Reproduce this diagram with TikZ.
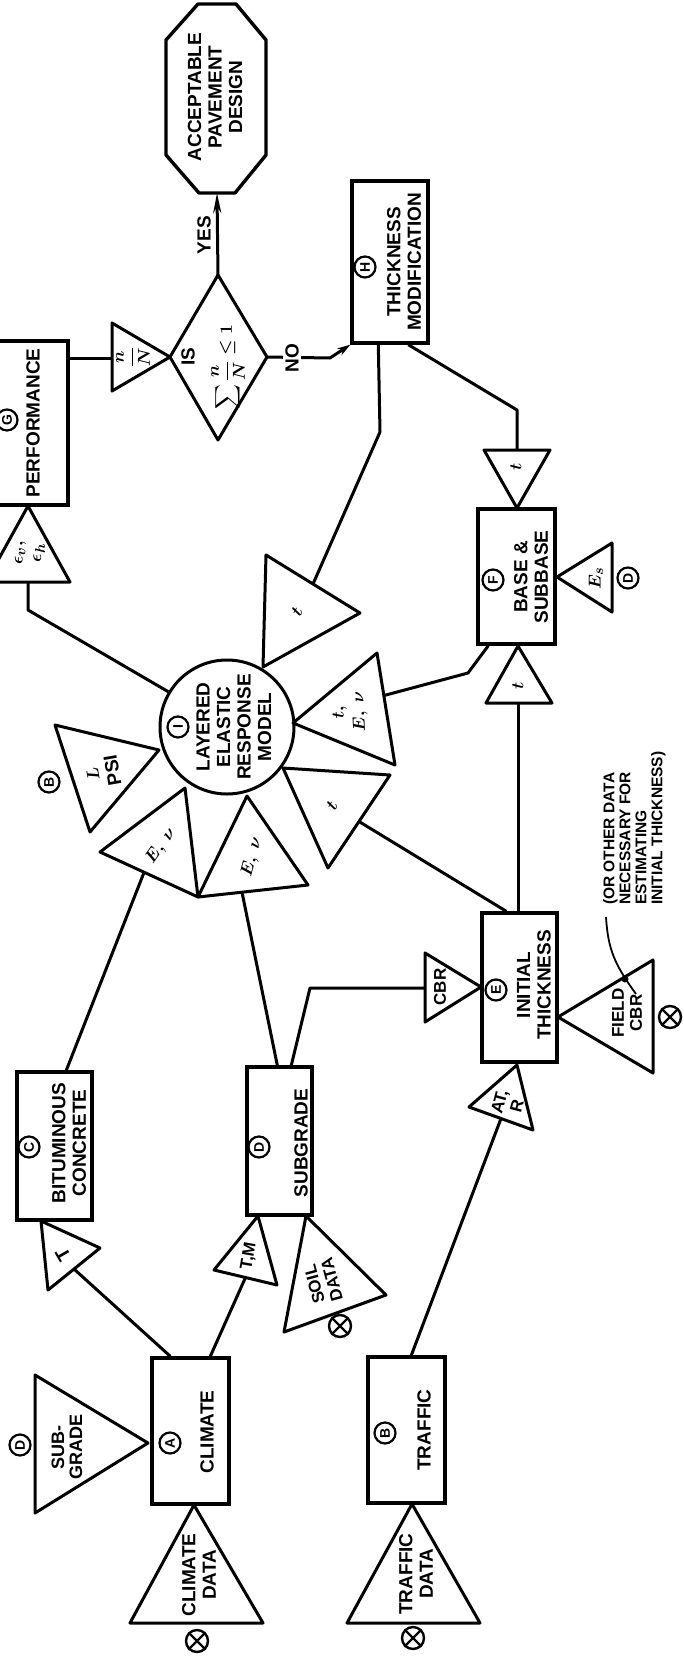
\documentclass[tikz,border=0pt]{standalone}
\usepackage{exscale}
\usepackage{fontspec}
\setmainfont{Liberation Sans}
\usetikzlibrary{arrows.meta,calc}
\begin{document}
\begin{tikzpicture}[x=1pt,y=-1pt,
  ln/.style={line width=3pt,line join=round},
  box/.style={draw,line width=3.4pt,inner sep=0pt},
  txt/.style={font=\fontsize{19}{20.5}\selectfont\bfseries\boldmath,align=center,inner sep=0pt},
  lbl/.style={txt,rotate=90},
  sml/.style={txt,font=\fontsize{17}{18}\selectfont\bfseries\boldmath},
  cl/.style={draw,circle,line width=2.2pt,minimum size=21pt,inner sep=0pt,
    font=\fontsize{14}{14}\selectfont\bfseries,rotate=90},
  src/.style={draw,circle,line width=2.4pt,minimum size=22pt,inner sep=0pt},
  xmark/.style={line width=2.4pt},
  yes/.style={-{Stealth[length=20pt,width=8pt]}},
  no/.style={-{Stealth[length=13pt,width=8pt]}}
]
\useasboundingbox (0,0) rectangle (683,1665);
\fill[white] (0,0) rectangle (683,1665);
\clip (0,0) rectangle (683,1665);

% ---------- final result: octagon ----------
\coordinate (o1) at (198,4);   \coordinate (o2) at (236,4);
\coordinate (o3) at (266,40);  \coordinate (o4) at (266,155);
\coordinate (o5) at (235,193); \coordinate (o6) at (199,193);
\coordinate (o7) at (166,155); \coordinate (o8) at (166,40);
\draw[ln,line width=3.4pt] (o1)--(o2)--(o3)--(o4)--(o5)--(o6)--(o7)--(o8)--cycle;
\coordinate (accB) at (217,193);
\node[lbl] (acc) at (215,97) {ACCEPTABLE\\PAVEMENT\\DESIGN};

% ---------- decision diamond ----------
\coordinate (dT) at (218,275); \coordinate (dR) at (267,357);
\coordinate (dB) at (218,440); \coordinate (dL) at (170,357);
\draw[ln] (dT)--(dR)--(dB)--(dL)--cycle;
\node[lbl] (isq) at (188,357) {IS};
\node[lbl] (sumq) at (228,367) {$\displaystyle\sum\frac{n}{N}\le 1$};
\draw[ln,yes] (dT) -- (accB);
\node[lbl] (yes) at (204,235) {YES};

% ---------- performance ----------
\node[box,minimum width=80pt,minimum height=164pt] (perf) at (28,423) {};
\node[lbl] (perfT) at (33,423) {PERFORMANCE};
\node[cl] (cG) at (7,420) {G};
\coordinate (nA) at (112,323); \coordinate (nB) at (112,391);
\coordinate (nM) at (112,358);
\draw[ln] (nA)--(dL)--(nB)--cycle;
\node[lbl] (nN) at (133,357) {$\displaystyle\frac{n}{N}$};
\draw[ln] (perf.east |- nM) -- (nM);

% strain output triangle
\coordinate (ep1) at (-14,582); \coordinate (ep2) at (70,582);
\coordinate (ep3) at (28,506);  \coordinate (epM) at (28,582);
\draw[ln] (ep1)--(ep3)--(ep2)--cycle;
\node[lbl] (epT) at (30,553) {$\epsilon_v,$\\[-2pt]$\epsilon_h$};

% ---------- thickness modification ----------
\node[box,minimum width=76pt,minimum height=162pt] (tm) at (390,262) {};
\node[lbl] (tmT) at (404,262) {THICKNESS\\MODIFICATION};
\node[cl] (cH) at (365,267) {H};
\coordinate (noK) at (330,358);
\draw[ln,no] (dR) -- (noK) -- (tm.south west);
\node[lbl,fill=white,inner sep=2pt] (no) at (292,358) {NO};

% ---------- layered elastic response model ----------
\node[draw,circle,line width=3pt,minimum size=134pt,inner sep=0pt] (lem) at (227,727) {};
\node[lbl] (lemT) at (234,727) {LAYERED\\ELASTIC\\RESPONSE\\MODEL};
\node[cl] (cI) at (178,727) {I};
\coordinate (epBend) at (28,610);
\draw[ln] (epM) -- (epBend) -- (lem.149);

% thickness from modification
\coordinate (tA1) at (266,555); \coordinate (tA2) at (360,613);
\coordinate (tA3) at (263,667);
\coordinate (tAm) at ($(tA1)!0.5!(tA2)$);
\draw[ln] (tA1)--(tA2)--(tA3)--cycle;
\node[txt,rotate=60] (tAt) at (297,612) {$t$};
\coordinate (tmBend1) at (380,432);
\draw[ln] ([xshift=28pt]tm.south west) -- (tmBend1) -- (tAm);

% load and tire pressure
\coordinate (P1) at (55,725); \coordinate (P2) at (159,750); \coordinate (P3) at (90,832);
\draw[ln] (P1)--(P2)--(P3)--cycle;
\node[txt,rotate=100] (psi) at (103,772) {$L$\\PSI};
\node[cl] (cB1) at (49,782) {B};

% layer moduli
\coordinate (L1) at (100,852); \coordinate (L2) at (185,788); \coordinate (L3) at (198,897);
\draw[ln] (L1)--(L2)--(L3)--cycle;
\node[txt,rotate=55] (lEv) at (161,846) {$E,\ \nu$};
\coordinate (R1) at (247,796); \coordinate (R3) at (308,885);
\draw[ln] (R1)--(L3)--(R3)--cycle;
\node[txt,rotate=75] (rEv) at (252,857) {$E,\ \nu$};

% base properties
\coordinate (e1) at (293,723); \coordinate (e2) at (377,653); \coordinate (e3) at (395,765);
\draw[ln] (e1)--(e2)--(e3)--cycle;
\node[txt,rotate=93] (eTEv) at (350,712) {$t,$\\$E,\ \nu$};

% thickness from initial estimate
\coordinate (r1) at (283,768); \coordinate (r2) at (390,775); \coordinate (r3) at (328,868);
\coordinate (rTm) at ($(r2)!0.5!(r3)$);
\draw[ln] (r1)--(r2)--(r3)--cycle;
\node[txt,rotate=60] (rt) at (332,806) {$t$};

% ---------- base & subbase ----------
\node[box,minimum width=77pt,minimum height=135pt] (base) at (516.5,576.5) {};
\node[lbl] (baseT) at (531,577) {BASE \&\\SUBBASE};
\node[cl] (cF) at (493,580) {F};
\coordinate (es1) at (612,543); \coordinate (es2) at (612,612); \coordinate (es3) at (557,577);
\draw[ln] (es1)--(es3)--(es2)--cycle;
\node[lbl] (esT) at (596,578) {$E_s$};
\node[cl] (cD1) at (628,578) {D};

\coordinate (tB1) at (484,450); \coordinate (tB2) at (550,450); \coordinate (tB3) at (517,508);
\coordinate (tBm) at (517,450);
\draw[ln] (tB1)--(tB3)--(tB2)--cycle;
\node[lbl] (tBt) at (516,467) {$t$};
\coordinate (tmBend2) at (517,410);
\draw[ln] ([xshift=58pt]tm.south west) -- (tmBend2) -- (tBm);

\coordinate (tC1) at (486,703); \coordinate (tC2) at (552,703); \coordinate (tC3) at (518,646);
\coordinate (tCm) at (518,703);
\draw[ln] (tC1)--(tC3)--(tC2)--cycle;
\node[lbl] (tCt) at (518,686) {$t$};

\coordinate (baseBend) at (468,673);
\draw[ln] ([xshift=12pt]base.south west) -- (baseBend) -- ($(e2)!0.38!(e3)$);

% ---------- initial thickness ----------
\node[box,minimum width=75pt,minimum height=149pt] (init) at (519.5,987.5) {};
\node[lbl] (initT) at (534,985) {INITIAL\\THICKNESS};
\node[cl] (cE) at (496,990) {E};
\draw[ln] (tCm) -- (init.north -| tCm);
\draw[ln] ([xshift=26pt]init.north west) -- (rTm);

\coordinate (c1) at (425,953); \coordinate (c2) at (425,1022); \coordinate (c3) at (481,987);
\coordinate (cM) at (425,988);
\draw[ln] (c1)--(c3)--(c2)--cycle;
\node[sml,rotate=90] (cbrT) at (440,987) {CBR};

\coordinate (f1) at (653,960); \coordinate (f2) at (653,1073); \coordinate (f3) at (558,1017);
\draw[ln] (f1)--(f3)--(f2)--cycle;
\node[sml,rotate=90] (fcbr) at (627,1013) {FIELD\\CBR};
\node[src] (x1) at (670,1017) {};
\draw[xmark] (x1.45)--(x1.225) (x1.135)--(x1.315);

\node[txt,rotate=90,align=left,anchor=north west,font=\fontsize{15.5}{16}\selectfont\bfseries] (note) at (603,905)
  {(OR OTHER DATA\\NECESSARY FOR\\ESTIMATING\\INITIAL THICKNESS)};
\coordinate (ldA) at (606,917); \coordinate (ldB) at (636,994); \coordinate (ldDot) at (625,979);
\draw[line width=1.8pt] (ldA) .. controls (608,950) and (615,965) .. (ldB);
\fill (ldDot) circle (3.5pt);

\coordinate (d1) at (469,1107); \coordinate (d2) at (533,1130); \coordinate (d3) at (517,1065);
\coordinate (dM) at ($(d1)!0.5!(d2)$);
\draw[ln] (d1)--(d3)--(d2)--cycle;
\node[sml,rotate=75] (atr) at (508,1104) {AT,\\R};

% ---------- bituminous concrete ----------
\node[box,minimum width=75pt,minimum height=148pt] (bit) at (54.5,1146) {};
\node[lbl] (bitT) at (69,1143) {BITUMINOUS\\CONCRETE};
\node[cl] (cC) at (29,1147) {C};
\draw[ln] ([xshift=51pt]bit.north west) -- ($(L1)!0.45!(L3)$);

% ---------- subgrade ----------
\node[box,minimum width=65pt,minimum height=148pt] (subg) at (279.5,1141) {};
\node[lbl] (subgT) at (301,1143) {SUBGRADE};
\node[cl] (cD2) at (259,1147) {D};
\draw[ln] ([xshift=32pt]subg.north west) -- ($(L3)!0.4!(R3)$);
\coordinate (sgBend) at (310,988);
\draw[ln] ([xshift=46pt]subg.north west) -- (sgBend) -- (cM);

% temperature to bituminous concrete
\coordinate (T1) at (100,1248); \coordinate (T2) at (48,1290); \coordinate (T3) at (41,1221);
\draw[ln] (T1)--(T3)--(T2)--cycle;
\node[txt,rotate=120] (tT) at (63,1255) {T};

% temperature and moisture to subgrade
\coordinate (M1) at (214,1270); \coordinate (M2) at (277,1285); \coordinate (M3) at (258,1216);
\draw[ln] (M1)--(M3)--(M2)--cycle;
\node[sml,rotate=80] (tmm) at (249,1256) {T,M};

% soil data
\coordinate (S1) at (386,1295); \coordinate (S2) at (284,1332); \coordinate (S3) at (306,1216);
\draw[ln] (S1)--(S3)--(S2)--cycle;
\node[sml,rotate=105] (soil) at (323,1282) {SOIL\\DATA};
\node[src] (x2) at (340,1326) {};
\draw[xmark] (x2.45)--(x2.225) (x2.135)--(x2.315);

% ---------- climate ----------
\node[box,minimum width=77pt,minimum height=146pt] (clim) at (190.5,1431) {};
\node[lbl] (climT) at (207,1432) {CLIMATE};
\node[cl] (cA) at (170,1443) {A};
\draw[ln] ([xshift=20pt]clim.north west) -- ($(T1)!0.5!(T2)$);
\draw[ln] ([xshift=60pt]clim.north west) -- ($(M1)!0.5!(M2)$);

\coordinate (sg1) at (35,1375); \coordinate (sg2) at (35,1513); \coordinate (sg3) at (148,1443);
\draw[ln] (sg1)--(sg3)--(sg2)--cycle;
\node[lbl,font=\fontsize{18}{18}\selectfont\bfseries] (sgT) at (67,1447) {SUB-\\GRADE};
\node[cl] (cD3) at (20,1445) {D};

\coordinate (cd1) at (130,1623); \coordinate (cd2) at (263,1623); \coordinate (cd3) at (194,1505);
\draw[ln] (cd1)--(cd3)--(cd2)--cycle;
\node[lbl] (cdT) at (199,1575) {CLIMATE\\DATA};
\node[src] (x3) at (197,1641) {};
\draw[xmark] (x3.45)--(x3.225) (x3.135)--(x3.315);

% ---------- traffic ----------
\node[box,minimum width=77pt,minimum height=146pt] (traf) at (406.5,1430) {};
\node[lbl] (trafT) at (424,1430) {TRAFFIC};
\node[cl] (cB2) at (385,1433) {B};
\draw[ln] ([xshift=45pt]traf.north west) -- (dM);

\coordinate (td1) at (347,1623); \coordinate (td2) at (480,1623); \coordinate (td3) at (412,1504);
\draw[ln] (td1)--(td3)--(td2)--cycle;
\node[lbl] (tdT) at (416,1574) {TRAFFIC\\DATA};
\node[src] (x4) at (413,1638) {};
\draw[xmark] (x4.45)--(x4.225) (x4.135)--(x4.315);

\end{tikzpicture}
\end{document}
